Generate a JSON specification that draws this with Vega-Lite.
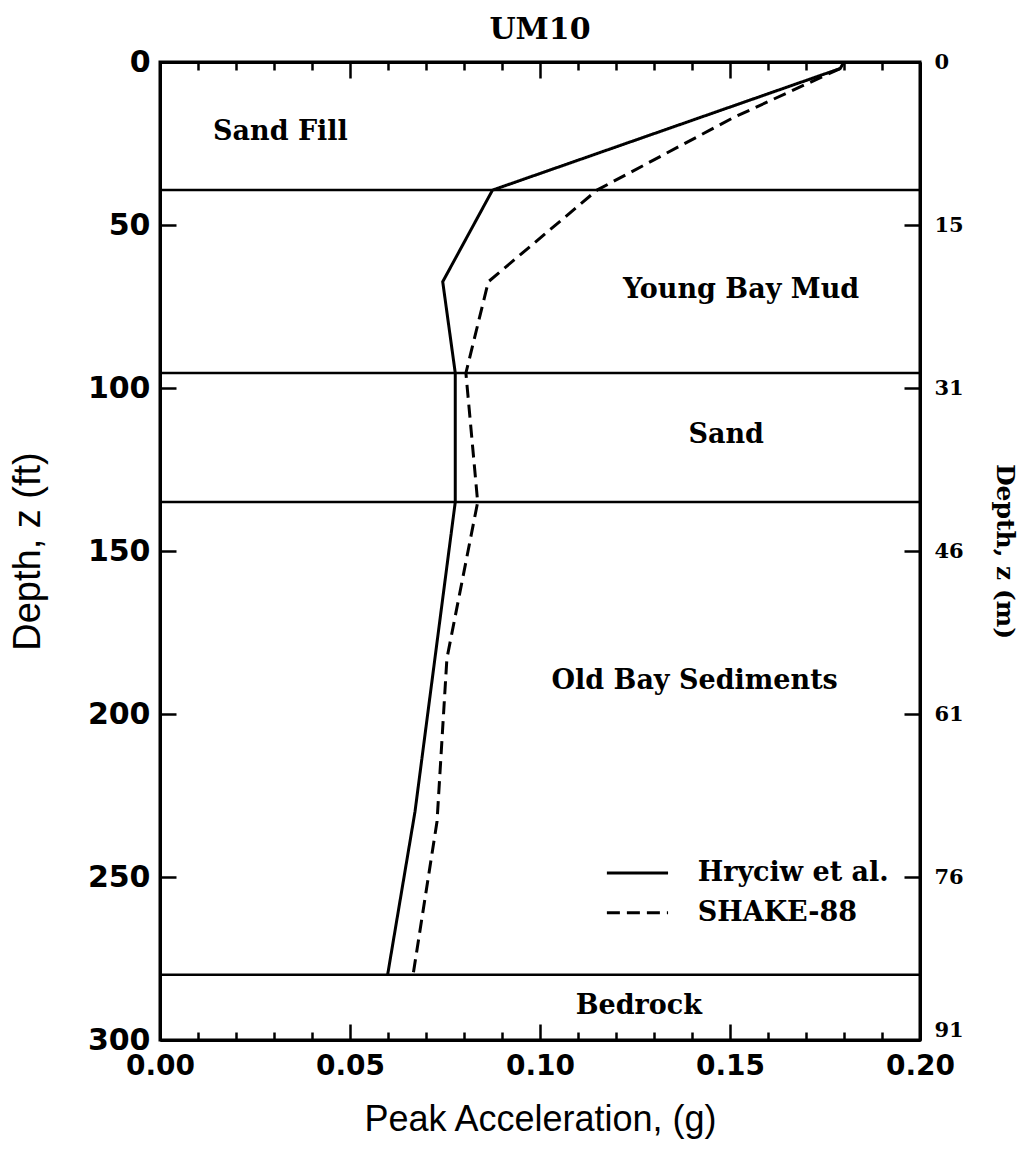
{
  "$schema": "https://vega.github.io/schema/vega-lite/v6.json",
  "autosize": "none",
  "width": 760,
  "height": 978,
  "padding": {"left": 160, "top": 62, "right": 108, "bottom": 116},
  "background": "white",
  "title": {"text": "UM10", "font": "DejaVu Serif", "fontSize": 30, "fontWeight": "bold", "color": "black", "anchor": "middle", "offset": 2},
  "config": {
    "view": {"stroke": "black", "strokeWidth": 3},
    "axis": {"grid": false, "domainColor": "black", "domainWidth": 3, "tickColor": "black", "tickWidth": 2.5, "labelColor": "black", "titleColor": "black"}
  },
  "datasets": {
    "bounds": [{"depth": 39.3}, {"depth": 95.4}, {"depth": 135}, {"depth": 280}],
    "profiles": [
      {"series": "Hryciw et al.", "ord": 1, "acc": 0.180, "depth": 0},
      {"series": "Hryciw et al.", "ord": 2, "acc": 0.179, "depth": 2},
      {"series": "Hryciw et al.", "ord": 3, "acc": 0.0875, "depth": 39.3},
      {"series": "Hryciw et al.", "ord": 4, "acc": 0.0744, "depth": 67.4},
      {"series": "Hryciw et al.", "ord": 5, "acc": 0.0777, "depth": 95.4},
      {"series": "Hryciw et al.", "ord": 6, "acc": 0.0777, "depth": 135},
      {"series": "Hryciw et al.", "ord": 7, "acc": 0.0671, "depth": 230},
      {"series": "Hryciw et al.", "ord": 8, "acc": 0.0599, "depth": 280},
      {"series": "SHAKE-88", "ord": 1, "acc": 0.179, "depth": 2},
      {"series": "SHAKE-88", "ord": 2, "acc": 0.151, "depth": 17},
      {"series": "SHAKE-88", "ord": 3, "acc": 0.115, "depth": 39.3},
      {"series": "SHAKE-88", "ord": 4, "acc": 0.0864, "depth": 67.4},
      {"series": "SHAKE-88", "ord": 5, "acc": 0.0805, "depth": 95.4},
      {"series": "SHAKE-88", "ord": 6, "acc": 0.0836, "depth": 135},
      {"series": "SHAKE-88", "ord": 7, "acc": 0.0755, "depth": 183},
      {"series": "SHAKE-88", "ord": 8, "acc": 0.0729, "depth": 233},
      {"series": "SHAKE-88", "ord": 9, "acc": 0.0666, "depth": 280}
    ],
    "layers": [
      {"name": "Sand Fill", "acc": 0.0317, "depth": 21.5},
      {"name": "Young Bay Mud", "acc": 0.1529, "depth": 70},
      {"name": "Sand", "acc": 0.149, "depth": 114.5},
      {"name": "Old Bay Sediments", "acc": 0.1407, "depth": 190},
      {"name": "Bedrock", "acc": 0.126, "depth": 289.5}
    ],
    "legend": [
      {"series": "Hryciw et al.", "a1": 0.1176, "a2": 0.1337, "at": 0.1415, "depth": 248.8},
      {"series": "SHAKE-88", "a1": 0.1176, "a2": 0.1337, "at": 0.1415, "depth": 261}
    ]
  },
  "resolve": {"scale": {"x": "shared", "y": "shared"}, "axis": {"x": "independent", "y": "independent"}},
  "layer": [
    {
      "data": {"name": "bounds"},
      "mark": {"type": "rule", "color": "black", "strokeWidth": 2.5},
      "encoding": {
        "y": {
          "field": "depth", "type": "quantitative",
          "scale": {"domain": [0, 300], "reverse": true, "nice": false, "zero": false},
          "axis": {"orient": "left", "values": [0, 50, 100, 150, 200, 250, 300], "tickSize": -16, "labelPadding": 26,
            "labelFont": "DejaVu Sans", "labelFontSize": 30, "labelFontWeight": "bold",
            "title": "Depth, z (ft)", "titleFont": "Liberation Sans", "titleFontSize": 38, "titleFontWeight": "normal", "titlePadding": 40}
        }
      }
    },
    {
      "data": {"name": "profiles"},
      "mark": {"type": "line", "color": "black", "strokeWidth": 3},
      "encoding": {
        "x": {
          "field": "acc", "type": "quantitative",
          "scale": {"domain": [0, 0.2], "nice": false, "zero": false},
          "axis": {"orient": "bottom", "values": [0, 0.01, 0.02, 0.03, 0.04, 0.05, 0.06, 0.07, 0.08, 0.09, 0.1, 0.11, 0.12, 0.13, 0.14, 0.15, 0.16, 0.17, 0.18, 0.19, 0.2],
            "tickSize": {"condition": {"test": "round(datum.value*100)%5==0", "value": -16}, "value": -8},
            "labelExpr": "round(datum.value*100)%5==0 ? format(datum.value, '.2f') : ''",
            "labelPadding": 28, "labelFont": "DejaVu Sans", "labelFontSize": 28, "labelFontWeight": "bold", "labelFlush": false, "labelOverlap": false,
            "title": "Peak Acceleration, (g)", "titleFont": "Liberation Sans", "titleFontSize": 36, "titleFontWeight": "normal", "titlePadding": 14}
        },
        "y": {"field": "depth", "type": "quantitative", "axis": null},
        "order": {"field": "ord", "type": "quantitative"},
        "detail": {"field": "series"},
        "strokeDash": {"field": "series", "type": "nominal", "scale": {"domain": ["Hryciw et al.", "SHAKE-88"], "range": [[1, 0], [13, 7]]}, "legend": null}
      }
    },
    {
      "data": {"name": "layers"},
      "mark": {"type": "text", "font": "DejaVu Serif", "fontSize": 27, "fontWeight": "bold", "color": "black", "align": "center", "baseline": "middle"},
      "encoding": {
        "x": {"field": "acc", "type": "quantitative",
          "axis": {"orient": "top", "values": [0, 0.01, 0.02, 0.03, 0.04, 0.05, 0.06, 0.07, 0.08, 0.09, 0.1, 0.11, 0.12, 0.13, 0.14, 0.15, 0.16, 0.17, 0.18, 0.19, 0.2],
            "tickSize": {"condition": {"test": "round(datum.value*100)%5==0", "value": -16}, "value": -8},
            "labels": false, "title": null}
        },
        "y": {"field": "depth", "type": "quantitative",
          "axis": {"orient": "right", "values": [0, 50, 100, 150, 200, 250, 300], "tickSize": -16, "labelPadding": 30,
            "labelExpr": "datum.value==0 ? '0' : datum.value==50 ? '15' : datum.value==100 ? '31' : datum.value==150 ? '46' : datum.value==200 ? '61' : datum.value==250 ? '76' : '91'",
            "labelBaseline": {"condition": {"test": "datum.value==300", "value": "bottom"}, "value": "middle"},
            "labelFont": "DejaVu Serif", "labelFontSize": 21, "labelFontWeight": "bold",
            "title": "Depth, z (m)", "titleAngle": 90, "titleFont": "DejaVu Serif", "titleFontSize": 25, "titleFontWeight": "bold", "titlePadding": 28}
        },
        "text": {"field": "name"}
      }
    },
    {
      "data": {"name": "legend"},
      "mark": {"type": "rule", "color": "black", "strokeWidth": 3},
      "encoding": {
        "x": {"field": "a1", "type": "quantitative", "axis": null},
        "x2": {"field": "a2"},
        "y": {"field": "depth", "type": "quantitative", "axis": null},
        "strokeDash": {"field": "series", "type": "nominal", "legend": null}
      }
    },
    {
      "data": {"name": "legend"},
      "mark": {"type": "text", "font": "DejaVu Serif", "fontSize": 27, "fontWeight": "bold", "color": "black", "align": "left", "baseline": "middle"},
      "encoding": {
        "x": {"field": "at", "type": "quantitative", "axis": null},
        "y": {"field": "depth", "type": "quantitative", "axis": null},
        "text": {"field": "series"}
      }
    }
  ]
}
